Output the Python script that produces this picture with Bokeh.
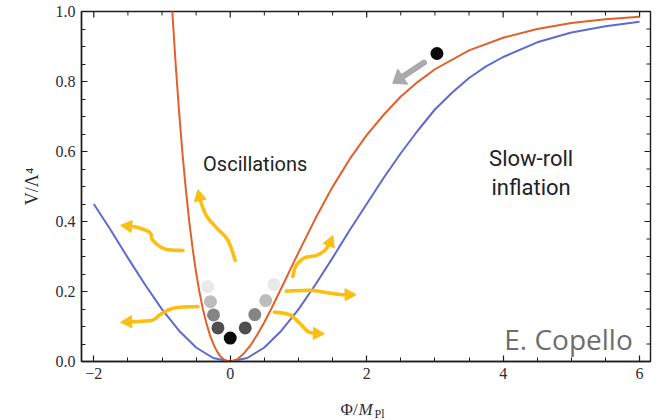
import numpy as np
from bokeh.plotting import figure
from bokeh.layouts import column
from bokeh.models import FixedTicker, Label, Range1d, NumeralTickFormatter, ColumnDataSource
from bokeh.core.properties import value
from bokeh.embed import file_html
from bokeh.resources import INLINE

# ---------------- data ----------------
phi_orange = [-0.9, -0.85, -0.8, -0.75, -0.7, -0.65, -0.6, -0.55, -0.5, -0.45, -0.4, -0.35, -0.3,
              -0.25, -0.2, -0.15, -0.1, -0.05, 0.0, 0.1, 0.2, 0.3, 0.4, 0.5, 0.6, 0.7, 0.8, 0.9, 1.0,
              1.25, 1.5, 1.75, 2.0, 2.25, 2.5, 2.75, 3.0, 3.5, 4.0, 4.5, 5.0, 5.5, 6.0]
v_orange = [1.178, 1.003, 0.850, 0.714, 0.594, 0.490, 0.399, 0.321, 0.254, 0.197, 0.149, 0.110, 0.077,
            0.051, 0.031, 0.016, 0.007, 0.002, 0.0, 0.006, 0.023, 0.047, 0.078, 0.112, 0.150, 0.190,
            0.230, 0.271, 0.311, 0.409, 0.499, 0.578, 0.647, 0.705, 0.757, 0.799, 0.835, 0.889, 0.925,
            0.950, 0.967, 0.978, 0.985]

phi_blue = [-2.0, -1.75, -1.5, -1.25, -1.0, -0.75, -0.5, -0.25, 0.0, 0.25, 0.5, 0.75, 1.0,
            1.25, 1.5, 1.75, 2.0, 2.25, 2.5, 2.75, 3.0, 3.25, 3.5, 3.75, 4.0, 4.5, 5.0, 5.5, 6.0]
v_blue = [0.450, 0.375, 0.296, 0.220, 0.149, 0.088, 0.040, 0.010, 0.0, 0.010, 0.040, 0.088, 0.149,
          0.220, 0.296, 0.375, 0.450, 0.525, 0.595, 0.660, 0.720, 0.768, 0.810, 0.843, 0.870, 0.912,
          0.940, 0.958, 0.971]

# oscillating field positions (light -> dark)
osc_phi = [-0.33, 0.64, -0.29, 0.52, -0.245, 0.36, -0.18, 0.22, 0.0]
osc_v = [0.214, 0.220, 0.171, 0.174, 0.133, 0.134, 0.096, 0.096, 0.067]
osc_color = ["#e9e9e9", "#e9e9e9", "#bdbdbd", "#bdbdbd", "#858585", "#858585", "#4f4f4f", "#4f4f4f", "#0a0a0a"]

# slow-roll field position
sr_phi = [3.03]
sr_v = [0.88]

x_ticks = [-2, 0, 2, 4, 6]
x_minor = [-2, -1.5, -1, -0.5, 0, 0.5, 1, 1.5, 2, 2.5, 3, 3.5, 4, 4.5, 5, 5.5, 6]
y_ticks = [0.0, 0.2, 0.4, 0.6, 0.8, 1.0]
y_minor = [round(0.05 * i, 2) for i in range(21)]

# decorative arrows (data coordinates, last point = tip)
arrow_yellow = [
    [(-0.693, 0.317), (-0.962, 0.322), (-1.132, 0.346), (-1.182, 0.369), (-1.376, 0.384), (-1.606, 0.389)],
    [(0.073, 0.289), (-0.034, 0.346), (-0.205, 0.383), (-0.351, 0.417), (-0.439, 0.460), (-0.473, 0.491)],
    [(-0.473, 0.157), (-0.816, 0.153), (-1.010, 0.136), (-1.132, 0.119), (-1.303, 0.115), (-1.606, 0.112)],
    [(0.918, 0.243), (0.966, 0.274), (1.088, 0.296), (1.259, 0.303), (1.381, 0.317), (1.454, 0.336), (1.504, 0.360)],
    [(0.820, 0.201), (1.186, 0.203), (1.435, 0.196), (1.625, 0.191), (1.845, 0.191)],
    [(0.649, 0.141), (0.864, 0.134), (1.010, 0.111), (1.138, 0.086), (1.259, 0.080), (1.381, 0.079)],
]
arrow_gray = [(2.840, 0.854), (2.382, 0.795)]

# ---------------- main figure ----------------
XR = (-2.18, 6.16)
YR = (0.0, 1.0)
FW, FH = 569, 350
SX = FW / (XR[1] - XR[0])
SY = FH / (YR[1] - YR[0])

p = figure(width=659, height=395, x_range=Range1d(*XR), y_range=Range1d(*YR),
           output_backend="svg", toolbar_location=None,
           min_border_left=81, min_border_right=9, min_border_top=11, min_border_bottom=34)
p.xgrid.visible = False
p.ygrid.visible = False
AX_COL = "#1c1c1c"
LBL_COL = "#2b2b35"
SERIF = "Liberation Serif"
p.outline_line_color = AX_COL
p.outline_line_width = 1.4
p.background_fill_color = "white"
p.border_fill_color = "white"


def style_axis(ax, standoff=6):
    ax.axis_line_color = AX_COL
    ax.axis_line_width = 1.4
    ax.major_tick_in = 6
    ax.major_tick_out = 0
    ax.minor_tick_in = 4
    ax.minor_tick_out = 0
    ax.major_tick_line_color = AX_COL
    ax.minor_tick_line_color = AX_COL
    ax.major_tick_line_width = 1.2
    ax.minor_tick_line_width = 1
    ax.major_label_text_font = SERIF
    ax.major_label_text_font_size = "16px"
    ax.major_label_text_color = LBL_COL
    ax.major_label_standoff = standoff


xax = p.xaxis[0]
xax.ticker = FixedTicker(ticks=x_ticks, minor_ticks=x_minor)
xax.major_label_overrides = {-2: "\u22122"}
style_axis(xax, 6)

yax = p.yaxis[0]
yax.ticker = FixedTicker(ticks=y_ticks, minor_ticks=y_minor)
yax.formatter = NumeralTickFormatter(format="0.0")
style_axis(yax, 6)
yax.axis_label = "V/\u039b\u2074"
yax.axis_label_text_font = SERIF
yax.axis_label_text_font_size = "18px"
yax.axis_label_text_font_style = "normal"
yax.axis_label_text_color = LBL_COL
yax.axis_label_standoff = 11

# inward ticks on the top and right edges of the frame
tx_minor = [t for t in x_minor if t not in x_ticks]
ty_minor = [t for t in y_minor if t not in y_ticks]
p.segment(x0=x_ticks, y0=[YR[1]] * len(x_ticks), x1=x_ticks, y1=[YR[1] - 6 / SY] * len(x_ticks),
          line_color=AX_COL, line_width=1.2)
p.segment(x0=tx_minor, y0=[YR[1]] * len(tx_minor), x1=tx_minor, y1=[YR[1] - 4 / SY] * len(tx_minor),
          line_color=AX_COL, line_width=1)
p.segment(x0=[XR[1]] * len(y_ticks), y0=y_ticks, x1=[XR[1] - 6 / SX] * len(y_ticks), y1=y_ticks,
          line_color=AX_COL, line_width=1.2)
p.segment(x0=[XR[1]] * len(ty_minor), y0=ty_minor, x1=[XR[1] - 4 / SX] * len(ty_minor), y1=ty_minor,
          line_color=AX_COL, line_width=1)

# curves
p.line(phi_blue, v_blue, line_color="#5d6bcf", line_width=2)
p.line(phi_orange, v_orange, line_color="#e2602a", line_width=2)


# arrows
def to_px(pt):
    return np.array([pt[0] * SX, pt[1] * SY])


def to_data(q):
    return (q[0] / SX, q[1] / SY)


def catmull(pts, n=14):
    P = [pts[0]] + list(pts) + [pts[-1]]
    out = []
    for i in range(1, len(P) - 2):
        p0, p1, p2, p3 = P[i - 1], P[i], P[i + 1], P[i + 2]
        for t in np.linspace(0, 1, n, endpoint=False):
            t2, t3 = t * t, t * t * t
            out.append(0.5 * ((2 * p1) + (-p0 + p2) * t + (2 * p0 - 5 * p1 + 4 * p2 - p3) * t2
                              + (-p0 + 3 * p1 - 3 * p2 + p3) * t3))
    out.append(P[-2])
    return out


def draw_arrow(points, color, width, head_len, head_w):
    px = [to_px(q) for q in points]
    tip = px[-1]
    prev = px[-2]
    d = tip - prev
    d = d / np.linalg.norm(d)
    nrm = np.array([-d[1], d[0]])
    base = tip - head_len * d
    shaft = px[:-1] + [base + 0.5 * d]
    sm = catmull(shaft)
    xs = [to_data(q)[0] for q in sm]
    ys = [to_data(q)[1] for q in sm]
    p.line(xs, ys, line_color=color, line_width=width, line_cap="round", line_join="round")
    tri = [tip, base + head_w * nrm, base - head_w * nrm]
    p.patch([to_data(q)[0] for q in tri], [to_data(q)[1] for q in tri],
            fill_color=color, line_color=color, line_width=1, line_join="round")


for arr in arrow_yellow:
    draw_arrow(arr, "#fdbe12", 3.6, 11, 6)
draw_arrow(arrow_gray, "#aaaaaa", 6, 12, 9)

# field positions
src = ColumnDataSource(dict(x=osc_phi, y=osc_v, c=osc_color))
p.scatter("x", "y", source=src, size=13, fill_color="c", line_color=None)
p.scatter(sr_phi, sr_v, size=13, fill_color="#0a0a0a", line_color=None)

# texts
p.add_layout(Label(x=0.366, y=0.565, text="Oscillations", text_align="center",
                   text_baseline="alphabetic", text_font="Roboto", text_font_size="20px",
                   text_color="#222222"))
p.add_layout(Label(x=4.41, y=0.579, text="Slow-roll", text_align="center",
                   text_baseline="alphabetic", text_font="Roboto", text_font_size="22px",
                   text_color="#222222"))
p.add_layout(Label(x=4.41, y=0.498, text="inflation", text_align="center",
                   text_baseline="alphabetic", text_font="Roboto", text_font_size="22px",
                   text_color="#222222"))
p.add_layout(Label(x=5.90, y=0.0657, text="E. Copello", text_align="right",
                   text_baseline="alphabetic", text_font="Open Sans", text_font_size="28px",
                   text_color="#6e6e6e"))

# ---------------- x-axis title strip:  Phi / M_Pl ----------------
lab = figure(width=659, height=25, x_range=p.x_range, y_range=Range1d(0, 1),
             output_backend="svg", toolbar_location=None,
             x_axis_location=None, y_axis_location=None,
             min_border_left=81, min_border_right=9, min_border_top=0, min_border_bottom=0)
lab.xgrid.visible = False
lab.ygrid.visible = False
lab.outline_line_color = None
lab.background_fill_color = "white"
lab.border_fill_color = "white"

lab.text(x=[1.616], y=[0.44], text=["\u03a6/"], text_font=value(SERIF), text_font_size="17px",
         text_color=LBL_COL, text_baseline="alphabetic", text_align="left")
lab.text(x=[1.880], y=[0.44], text=["M"], text_font=value(SERIF), text_font_size="17px",
         text_font_style="italic", text_color=LBL_COL, text_baseline="alphabetic", text_align="left")
lab.text(x=[2.114], y=[0.28], text=["Pl"], text_font=value(SERIF), text_font_size="12px",
         text_color=LBL_COL, text_baseline="alphabetic", text_align="left")

layout = column(p, lab, spacing=0)
open("out.html", "w").write(file_html(layout, INLINE))
